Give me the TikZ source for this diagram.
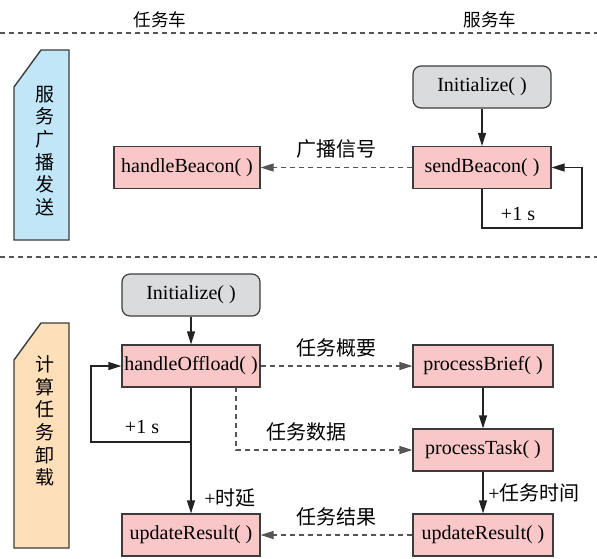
\documentclass[tikz,border=0pt]{standalone}
\usepackage{fontspec}
\setmainfont{Liberation Serif}
\newfontfamily\cjk{Noto Sans CJK SC}
\usepackage{tikz}
\usetikzlibrary{arrows.meta,positioning}
\definecolor{funcPink}{RGB}{249,199,199}
\definecolor{initGray}{RGB}{218,219,221}
\definecolor{tabBlue}{RGB}{192,230,248}
\definecolor{tabOrange}{RGB}{253,224,186}
\definecolor{edgeDark}{RGB}{60,60,60}
\definecolor{lineDark}{RGB}{35,35,35}
\definecolor{dashGray}{RGB}{85,85,85}

\begin{document}
\begin{tikzpicture}[x=0.5pt,y=-0.5pt,
  font=\rmfamily\fontsize{10}{11.2}\selectfont,
  func/.style={draw=edgeDark, line width=0.6pt, fill=funcPink,
    minimum width=69pt, minimum height=21pt, inner sep=0pt},
  init/.style={func, fill=initGray, rounded corners=4pt},
  flow/.style={draw=lineDark, line width=0.6pt, -{Triangle[length=6.5pt,width=4pt]}},
  msg/.style={flow, dash pattern=on 2.5pt off 2pt, draw=dashGray},
  tab/.style={draw=edgeDark, line width=0.7pt},
  tabtext/.style={align=center, font=\cjk\fontsize{9.5}{11.3}\selectfont},
  head/.style={font=\cjk\fontsize{8.8}{10}\selectfont},
  sep/.style={dashGray, line width=0.7pt, dash pattern=on 2.5pt off 2pt}]
\useasboundingbox (0,0) rectangle (597,558);

% headers and separators
\node[head] (taskHead) at (160,20) {任务车};
\node[head] (servHead) at (490,20) {服务车};
\draw[sep] (0,33) -- (597,33);
\draw[sep] (0,257) -- (597,257);

% side tabs
\draw[tab, fill=tabBlue] (14,87) -- (41,50) -- (69,50) -- (69,240) -- (14,240) -- cycle;
\node[tabtext] (beaconTab) at (45,151) {服\\务\\广\\播\\发\\送};
\draw[tab, fill=tabOrange] (14,360) -- (41,323) -- (69,323) -- (69,548) -- (14,548) -- cycle;
\node[tabtext] (offloadTab) at (45,421) {计\\算\\任\\务\\卸\\载};

% beacon part
\node[init] (initServ) at (482,87) {Initialize( )};
\node[func] (sendBeacon) at (482,167.5) {sendBeacon( )};
\node[func, minimum width=73pt] (handleBeacon) at (187,167.5) {handleBeacon( )};
\coordinate (beaconLoop) at (582,228);
\draw[flow] (initServ) -- (sendBeacon);
\draw[flow] (sendBeacon.south) |- (beaconLoop) |- (sendBeacon.east);
\node (beaconTick) at (518,214) {+1 s};
\draw[msg] (sendBeacon) -- (handleBeacon) node[midway, above=1pt] {\cjk 广播信号};

% offload part
\node[init] (initTask) at (191,295) {Initialize( )};
\node[func] (handleOffload) at (191,366) {handleOffload( )};
\node[func] (resultTask) at (191,535) {updateResult( )};
\node[func, minimum width=70pt] (processBrief) at (483,366) {processBrief( )};
\node[func, minimum width=70pt] (processTask) at (483,450) {processTask( )};
\node[func, minimum width=70pt] (resultServ) at (483,535) {updateResult( )};

\coordinate (offloadTap) at (191,442);
\coordinate (offloadLoop) at (91,442);
\coordinate (dataTap) at (236,387);

\draw[flow] (initTask) -- (handleOffload);
\draw[flow] (offloadTap) -- (offloadLoop) |- (handleOffload.west);
\node (offloadTick) at (142,427) {+1 s};
\draw[flow] (handleOffload) -- (resultTask);
\node (delayLabel) at (230,498) {+\cjk 时延};

\draw[msg] (handleOffload) -- (processBrief) node[midway, above=1pt] {\cjk 任务概要};
\draw[msg] (dataTap) |- (processTask.west) node[pos=0.7, above=1pt] {\cjk 任务数据};
\draw[flow] (processBrief) -- (processTask);
\draw[flow] (processTask) -- (resultServ) node[midway, right=-1pt] {+\cjk 任务时间};
\draw[msg] (resultServ) -- (resultTask) node[midway, above=1pt] {\cjk 任务结果};
\end{tikzpicture}
\end{document}
